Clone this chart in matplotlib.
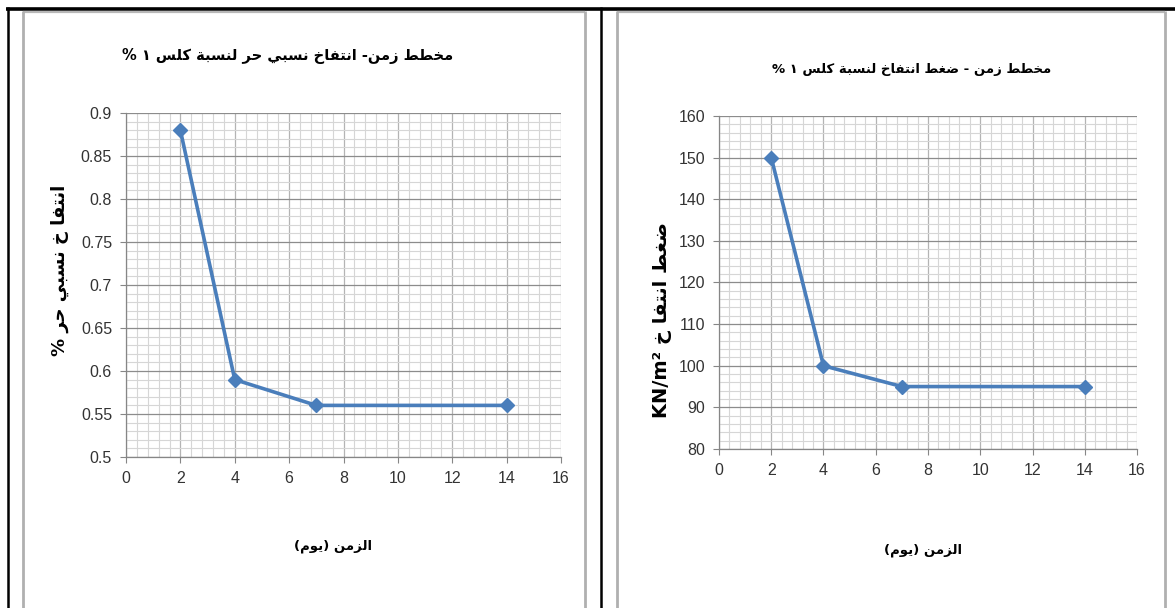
import re
import matplotlib
matplotlib.use("Agg")
import matplotlib.pyplot as plt
from matplotlib.lines import Line2D
from matplotlib.ticker import MultipleLocator


# DATA
days = [2, 4, 7, 14]
free_swell = [0.88, 0.59, 0.56, 0.56]
swell_pressure = [150, 100, 95, 95]

title_left = "مخطط زمن- انتفاخ نسبي حر لنسبة كلس ١ %"
title_right = "مخطط زمن - ضغط انتفاخ لنسبة كلس ١ %"
ylabel_left = "انتفا خ نسبي حر %"
ylabel_right = "ضغط انتفا خ KN/m²"
xlabel_text = "الزمن (يوم)"


# ARABIC SHAPING (presentation forms + right-to-left order)
FORMS = {
    "ا": (0xFE8D, 2), "ب": (0xFE8F, 4), "ة": (0xFE93, 2), "ت": (0xFE95, 4),
    "ح": (0xFEA1, 4), "خ": (0xFEA5, 4), "ر": (0xFEAD, 2), "ز": (0xFEAF, 2),
    "س": (0xFEB1, 4), "ض": (0xFEBD, 4), "ط": (0xFEC1, 4), "غ": (0xFECD, 4),
    "ف": (0xFED1, 4), "ك": (0xFED9, 4), "ل": (0xFEDD, 4), "م": (0xFEE1, 4),
    "ن": (0xFEE5, 4), "و": (0xFEED, 2), "ي": (0xFEF1, 4),
}


def shape(s):
    out = []
    for i, ch in enumerate(s):
        if ch not in FORMS:
            out.append(ch)
            continue
        base, n = FORMS[ch]
        prev = s[i - 1] if i > 0 else ""
        nxt = s[i + 1] if i + 1 < len(s) else ""
        jp = prev in FORMS and FORMS[prev][1] == 4
        jn = n == 4 and nxt in FORMS
        if jp and jn:
            off = 3
        elif jp:
            off = 1
        elif jn:
            off = 2
        else:
            off = 0
        out.append(chr(base + off))
    vis = "".join(out)[::-1]
    vis = vis.translate(str.maketrans("()", ")("))
    vis = re.sub(r"[A-Za-z0-9/²]+", lambda m: m.group(0)[::-1], vis)
    return vis


TICK_FONT = ["Liberation Sans", "DejaVu Sans"]
BLUE = "#4A7EBB"

fig = plt.figure(figsize=(11.75, 6.08), dpi=100)


def fx(px):
    return px / 1175


def fy(py):
    return 1 - py / 608


def fig_line(x0, y0, x1, y1, color, lw):
    fig.add_artist(Line2D([fx(x0), fx(x1)], [fy(y0), fy(y1)],
                          transform=fig.transFigure, color=color,
                          linewidth=lw, solid_capstyle="butt"))


# TABLE BORDERS
fig_line(6, 8.5, 1175, 8.5, "black", 2.6)
fig_line(7.5, 7, 7.5, 608, "black", 1.8)
fig_line(601, 7, 601, 608, "black", 1.8)

# CHART FRAMES
for x0, x1 in [(23, 585), (617, 1165)]:
    fig_line(x0, 11.5, x1, 11.5, "#b8b8b8", 1.6)
    fig_line(x0, 11, x0, 608, "#b0b0b0", 2.0)
    fig_line(x1, 11, x1, 608, "#b0b0b0", 2.0)


def setup(ax, ymin, ymax, ymaj, ymin_step):
    ax.set_xlim(0, 16)
    ax.set_ylim(ymin, ymax)
    ax.xaxis.set_major_locator(MultipleLocator(2))
    ax.xaxis.set_minor_locator(MultipleLocator(0.4))
    ax.yaxis.set_major_locator(MultipleLocator(ymaj))
    ax.yaxis.set_minor_locator(MultipleLocator(ymin_step))
    ax.yaxis.grid(which="major", color="#8c8c8c", linewidth=0.9)
    ax.xaxis.grid(which="major", color="#b4b4b4", linewidth=0.9)
    ax.grid(which="minor", color="#d6d6d6", linewidth=0.8)
    ax.set_axisbelow(True)
    for side in ["top", "right"]:
        ax.spines[side].set_visible(False)
    for side in ["left", "bottom"]:
        ax.spines[side].set_color("#868686")
        ax.spines[side].set_linewidth(0.9)
    ax.tick_params(which="major", length=4, color="#868686", pad=6,
                   labelsize=11.5, labelcolor="#333333")
    ax.tick_params(which="minor", length=0)
    ax.yaxis.set_major_formatter(plt.FuncFormatter(lambda v, p: f"{v:g}"))
    for lab in ax.get_xticklabels() + ax.get_yticklabels():
        lab.set_family(TICK_FONT)


# LEFT: FREE SWELL
ax1 = fig.add_axes([fx(126), fy(457), (561 - 126) / 1175, (457 - 113) / 608])
ax1.plot(days, free_swell, color=BLUE, linewidth=2.6, marker="D",
         markersize=7, zorder=3)
setup(ax1, 0.5, 0.9, 0.05, 0.01)

# RIGHT: SWELL PRESSURE
ax2 = fig.add_axes([fx(719), fy(449), (1137 - 719) / 1175, (449 - 116) / 608])
ax2.plot(days, swell_pressure, color=BLUE, linewidth=2.6, marker="D",
         markersize=7, zorder=3)
setup(ax2, 80, 160, 10, 2)

# TEXTS
fig.text(fx(288), fy(56), shape(title_left), ha="center", va="center",
         fontsize=10.5, fontweight="bold", family="DejaVu Sans")
fig.text(fx(912), fy(69), shape(title_right), ha="center", va="center",
         fontsize=9.5, fontweight="bold", family="DejaVu Sans")

fig.text(fx(333), fy(546), shape(xlabel_text), ha="center", va="center",
         fontsize=9.5, fontweight="bold", family="DejaVu Sans")
fig.text(fx(923), fy(550), shape(xlabel_text), ha="center", va="center",
         fontsize=9.5, fontweight="bold", family="DejaVu Sans")

fig.text(fx(60), fy(270), shape(ylabel_left), ha="center", va="center",
         rotation=90, fontsize=13, fontweight="bold", family="DejaVu Sans")
fig.text(fx(662), fy(320), shape(ylabel_right), ha="center", va="center",
         rotation=90, fontsize=14, fontweight="bold", family="DejaVu Sans")

plt.savefig("out.png", dpi=100)
